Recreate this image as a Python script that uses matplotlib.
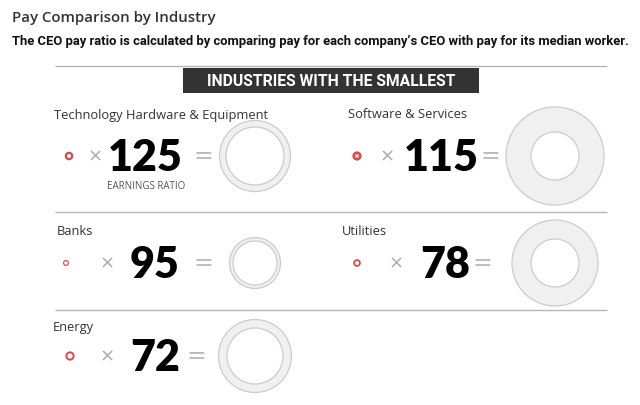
import matplotlib
matplotlib.use("Agg")
import matplotlib.pyplot as plt
from matplotlib.patches import Wedge, Circle, Rectangle

# ---- data ----
industries = ["Technology Hardware & Equipment", "Software & Services",
              "Banks", "Utilities", "Energy"]
ratios = [125, 115, 95, 78, 72]
ceo_outer = [35.5, 49, 25.5, 43, 36.5]   # CEO pay ring, outer radius (px)
ceo_inner = [29, 24, 22, 24, 28]         # CEO pay ring, inner radius (px)
worker_outer = [4.3, 4.6, 3.0, 3.8, 4.6]  # median worker ring, outer radius (px)
worker_inner = [2.0, 2.2, 1.8, 2.0, 2.6]  # median worker ring, inner radius (px)

title = "Pay Comparison by Industry"
subtitle = "The CEO pay ratio is calculated by comparing pay for each company\u2019s CEO with pay for its median worker."
banner = "INDUSTRIES WITH THE SMALLEST"
ratio_label = "EARNINGS RATIO"

# ---- layout (pixel coordinates) ----
rows_y = [157, 264, 357]
label_dy = [-42, -32, -29]

fig = plt.figure(figsize=(6.4, 4.06), dpi=100)
ax = fig.add_axes([0, 0, 1, 1])
ax.set_xlim(0, 640)
ax.set_ylim(406, 0)
ax.axis("off")

FONT = "Open Sans"
NUMFONT = "Lato"

ax.text(12, 18, title, fontsize=10.8, color="#333333", fontweight="semibold",
        family=FONT, va="center", ha="left")
ax.text(12, 42, subtitle, fontsize=9.35, color="#111111", fontweight="bold",
        family="Roboto", va="center", ha="left")

# separator lines
for yl in [67, 213, 311]:
    ax.plot([55, 607], [yl, yl], color="#b5b5b5", lw=1.0, solid_capstyle="butt")

ax.add_patch(Rectangle((183, 69), 296, 25, facecolor="#333333", edgecolor="none"))
ax.text(331, 82, banner, fontsize=11.3, color="white", fontweight="bold",
        family="Roboto", va="center", ha="center")

positions = [(0, 0), (1, 0), (0, 1), (1, 1), (0, 2)]
x_pos = {
    (0, 0): dict(label=54, worker=69, times=95, num=145, eq=203, ring=255),
    (1, 0): dict(label=348, worker=357, times=387, num=441, eq=490, ring=555),
    (0, 1): dict(label=57, worker=66, times=107, num=155, eq=203, ring=255),
    (1, 1): dict(label=342, worker=357, times=396, num=445, eq=482, ring=555),
    (0, 2): dict(label=53, worker=70, times=107, num=155, eq=196, ring=255),
}

red = "#d23a3a"
for i, (c, r) in enumerate(positions):
    xs = x_pos[(c, r)]
    y = rows_y[r]
    ax.text(xs["label"], y + label_dy[r], industries[i], fontsize=9.3,
            color="#333333", family=FONT, va="center", ha="left")
    # worker ring
    wo, wi = worker_outer[i], worker_inner[i]
    ax.add_patch(Wedge((xs["worker"], y), wo, 0, 360, width=wo - wi,
                       facecolor=red, edgecolor="none", alpha=0.9))
    if i == 1:
        ax.add_patch(Circle((xs["worker"], y), wi * 0.75, facecolor="none",
                            edgecolor=red, lw=0.6, alpha=0.7))
    ax.text(xs["times"], y, "\u00d7", fontsize=13, color="#aaaaaa",
            family="DejaVu Sans", va="center", ha="center")
    ax.text(xs["num"], y + 1, str(ratios[i]), fontsize=31, color="#000000",
            fontweight="heavy", family=NUMFONT, va="center", ha="center")
    ax.text(xs["eq"], y - 1, "=", fontsize=17, color="#bbbbbb",
            family="DejaVu Sans", va="center", ha="center")
    co, ci = ceo_outer[i], ceo_inner[i]
    ax.add_patch(Wedge((xs["ring"], y), co, 0, 360, width=co - ci,
                       facecolor="#f0f0f0", edgecolor="none"))
    ax.add_patch(Circle((xs["ring"], y), co, facecolor="none",
                        edgecolor="#cccccc", lw=0.9))
    ax.add_patch(Circle((xs["ring"], y), ci, facecolor="none",
                        edgecolor="#cccccc", lw=0.9))
    if i == 0:
        ax.text(xs["num"] + 1, y + 30, ratio_label, fontsize=7,
                color="#555555", family=FONT, va="center", ha="center")

fig.savefig("out.png", dpi=100, facecolor="white")
